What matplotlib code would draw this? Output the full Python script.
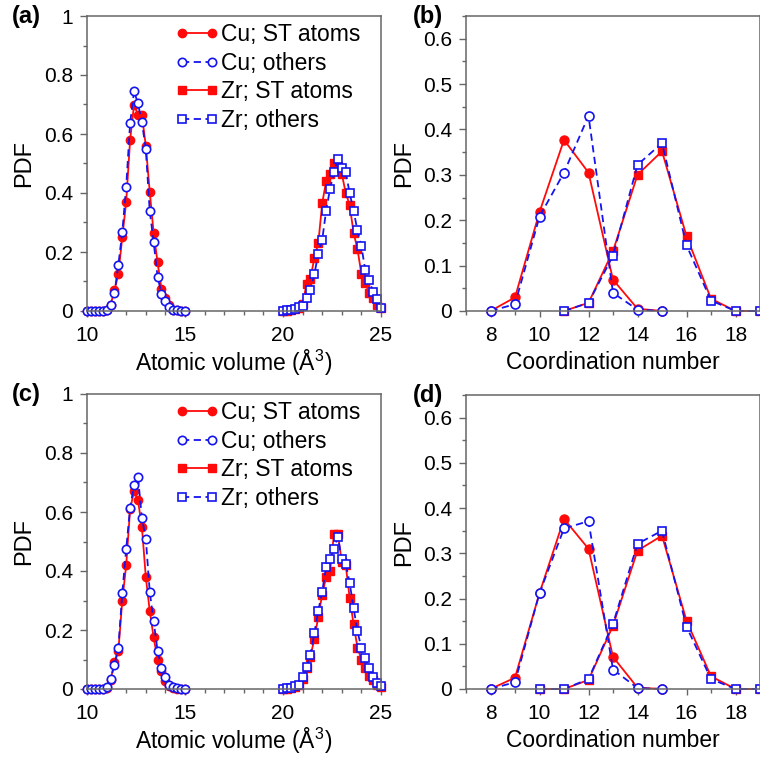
import numpy as np
import matplotlib
matplotlib.use("Agg")
import matplotlib.pyplot as plt
from matplotlib.ticker import MultipleLocator

plt.rcParams['font.family'] = ['Liberation Sans', 'DejaVu Sans']
plt.rcParams['mathtext.fontset'] = 'custom'
plt.rcParams['mathtext.rm'] = 'Liberation Sans'
plt.rcParams['mathtext.it'] = 'Liberation Sans:italic'

# ---- data ----
vol_cu = np.round(np.arange(10.0, 15.01, 0.2), 1)
vol_zr = np.round(np.arange(20.0, 25.01, 0.2), 1)

a_cu_st = [0, 0, 0, 0, 0, 0.005, 0.02, 0.07, 0.125, 0.25, 0.37, 0.58, 0.70,
           0.665, 0.665, 0.56, 0.405, 0.265, 0.165, 0.075, 0.045, 0.02, 0.005,
           0.002, 0, 0]
a_cu_ot = [0, 0, 0, 0, 0, 0.003, 0.02, 0.06, 0.157, 0.267, 0.422, 0.637, 0.745,
           0.704, 0.64, 0.549, 0.339, 0.234, 0.116, 0.059, 0.035, 0.015, 0.005,
           0.002, 0, 0]
a_zr_st = [0, 0.001, 0.003, 0.006, 0.01, 0.025, 0.09, 0.11, 0.18, 0.23, 0.365,
           0.44, 0.465, 0.50, 0.49, 0.465, 0.40, 0.36, 0.265, 0.21, 0.125, 0.095,
           0.06, 0.045, 0.02, 0.01]
a_zr_ot = [0, 0.002, 0.004, 0.008, 0.012, 0.018, 0.044, 0.072, 0.125, 0.194,
           0.241, 0.34, 0.414, 0.47, 0.516, 0.484, 0.47, 0.40, 0.34, 0.273, 0.219,
           0.138, 0.106, 0.063, 0.041, 0.01]

c_cu_st = [0, 0, 0, 0, 0, 0.005, 0.03, 0.09, 0.13, 0.30, 0.42, 0.61, 0.67, 0.64,
           0.55, 0.38, 0.265, 0.175, 0.10, 0.06, 0.027, 0.01, 0.004, 0.001, 0, 0]
c_cu_ot = [0, 0, 0, 0, 0, 0.007, 0.035, 0.08, 0.14, 0.325, 0.475, 0.615, 0.69,
           0.72, 0.58, 0.51, 0.33, 0.23, 0.13, 0.07, 0.04, 0.015, 0.008, 0.003,
           0.001, 0]
c_zr_st = [0, 0.001, 0.003, 0.006, 0.012, 0.035, 0.07, 0.11, 0.17, 0.245, 0.32,
           0.38, 0.40, 0.525, 0.525, 0.43, 0.42, 0.31, 0.22, 0.14, 0.10, 0.07,
           0.045, 0.03, 0.015, 0.008]
c_zr_ot = [0, 0.002, 0.005, 0.01, 0.015, 0.04, 0.075, 0.115, 0.19, 0.265, 0.33,
           0.415, 0.44, 0.475, 0.515, 0.44, 0.425, 0.36, 0.275, 0.195, 0.14,
           0.105, 0.07, 0.04, 0.02, 0.01]

cn_cu = [8, 9, 10, 11, 12, 13, 14, 15]
b_cu_st = [0, 0.03, 0.218, 0.377, 0.305, 0.069, 0.005, 0]
b_cu_ot = [0, 0.015, 0.208, 0.305, 0.43, 0.04, 0.003, 0]
cn_zr_b = [11, 12, 13, 14, 15, 16, 17, 18, 19]
b_zr_st = [0, 0.018, 0.132, 0.30, 0.352, 0.165, 0.027, 0, 0]
b_zr_ot = [0, 0.018, 0.122, 0.322, 0.37, 0.145, 0.023, 0, 0]

d_cu_st = [0, 0.025, 0.212, 0.376, 0.31, 0.071, 0.003, 0]
d_cu_ot = [0, 0.015, 0.212, 0.355, 0.371, 0.043, 0.002, 0]
cn_zr_d = [10, 11, 12, 13, 14, 15, 16, 17, 18, 19]
d_zr_st = [0, 0, 0.02, 0.14, 0.306, 0.339, 0.151, 0.028, 0, 0]
d_zr_ot = [0, 0, 0.022, 0.144, 0.321, 0.35, 0.138, 0.022, 0, 0]

labels = ['Cu; ST atoms', 'Cu; others', 'Zr; ST atoms', 'Zr; others']

RED = '#ff0a0a'
BLUE = '#1414f0'
SPINE = '#666666'

fig = plt.figure(figsize=(7.6, 7.67), dpi=100)
W, H = 760.0, 767.0


def make_ax(left, top, right, bottom):
    return fig.add_axes([left / W, 1 - bottom / H, (right - left) / W, (bottom - top) / H])


def style(ax):
    for s in ax.spines.values():
        s.set_color(SPINE)
        s.set_linewidth(1.1)
    ax.tick_params(which='both', direction='out', color=SPINE, width=1.0,
                   labelsize=15, top=False, right=False)
    ax.tick_params(axis='y', which='major', length=5, pad=5)
    ax.tick_params(axis='y', which='minor', length=3)
    ax.tick_params(axis='x', which='major', length=4, pad=7)
    ax.tick_params(axis='x', which='minor', length=3)
    ax.yaxis.set_major_formatter(plt.FuncFormatter(lambda v, p: f'{v:g}'))


def draw(ax, xc, cst, cot, xz, zst, zot, ms):
    ax.plot(xc, cst, '-', color=RED, lw=1.3, marker='o', ms=ms, mfc=RED, mec=RED,
            label=labels[0], clip_on=False)
    ax.plot(xc, cot, '--', color=BLUE, lw=1.3, dashes=(4, 2.5), marker='o', ms=ms,
            mfc='white', mec=BLUE, mew=1.2, label=labels[1], clip_on=False)
    ax.plot(xz, zst, '-', color=RED, lw=1.3, marker='s', ms=ms - 0.5, mfc=RED, mec=RED,
            label=labels[2], clip_on=False)
    ax.plot(xz, zot, '--', color=BLUE, lw=1.3, dashes=(4, 2.5), marker='s', ms=ms - 0.5,
            mfc='white', mec=BLUE, mew=1.2, label=labels[3], clip_on=False)


def volume_panel(ax, cst, cot, zst, zot, tag):
    draw(ax, vol_cu, cst, cot, vol_zr, zst, zot, 6.0)
    style(ax)
    ax.set_xlim(10, 25)
    ax.set_ylim(0, 1)
    ax.xaxis.set_major_locator(MultipleLocator(5))
    ax.xaxis.set_minor_locator(MultipleLocator(1))
    ax.yaxis.set_major_locator(MultipleLocator(0.2))
    ax.yaxis.set_minor_locator(MultipleLocator(0.1))
    ax.set_xlabel(r'Atomic volume (Å$^{\mathrm{3}}$)', fontsize=16.5)
    ax.set_ylabel('PDF', fontsize=17)
    ax.yaxis.set_label_coords(-0.175, 0.5)
    ax.xaxis.set_label_coords(0.5, -0.125)
    ax.legend(loc='upper left', bbox_to_anchor=(0.30, 0.975), frameon=False,
              fontsize=16.5, handlelength=1.9, handletextpad=0.12, labelspacing=0.24,
              borderpad=0, borderaxespad=0, numpoints=2)
    ax.text(-0.255, 1.0, tag, transform=ax.transAxes, fontsize=17, fontweight='bold',
            ha='left', va='center')


def cn_panel(ax, cst, cot, xz, zst, zot, tag):
    draw(ax, cn_cu, cst, cot, xz, zst, zot, 6.5)
    style(ax)
    ax.set_xlim(7, 19)
    ax.set_ylim(0, 0.65)
    ax.xaxis.set_major_locator(MultipleLocator(2))
    ax.xaxis.set_minor_locator(MultipleLocator(1))
    ax.yaxis.set_major_locator(MultipleLocator(0.1))
    ax.yaxis.set_minor_locator(MultipleLocator(0.05))
    ax.set_xlabel('Coordination number', fontsize=16.5)
    ax.set_ylabel('PDF', fontsize=17)
    ax.yaxis.set_label_coords(-0.172, 0.5)
    ax.xaxis.set_label_coords(0.5, -0.135)
    ax.text(-0.18, 1.0, tag, transform=ax.transAxes, fontsize=17, fontweight='bold',
            ha='left', va='center')


ax_a = make_ax(87, 16, 381, 311)
ax_b = make_ax(466, 16, 760, 311)
ax_c = make_ax(87, 394, 381, 689)
ax_d = make_ax(466, 395, 760, 689)

volume_panel(ax_a, a_cu_st, a_cu_ot, a_zr_st, a_zr_ot, '(a)')
volume_panel(ax_c, c_cu_st, c_cu_ot, c_zr_st, c_zr_ot, '(c)')
cn_panel(ax_b, b_cu_st, b_cu_ot, cn_zr_b, b_zr_st, b_zr_ot, '(b)')
cn_panel(ax_d, d_cu_st, d_cu_ot, cn_zr_d, d_zr_st, d_zr_ot, '(d)')

fig.savefig('out.png', dpi=100, facecolor='white')
